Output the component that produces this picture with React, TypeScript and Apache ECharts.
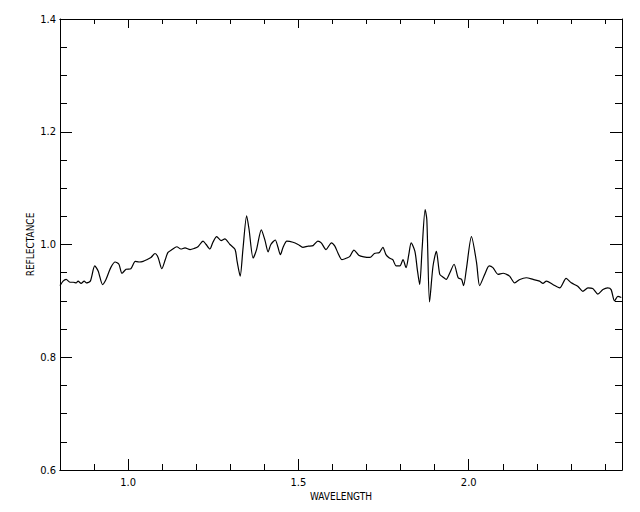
import React, { useEffect, useRef } from "react";
import * as echarts from "echarts";

const wavelength = [
  0.8, 0.809, 0.818, 0.83, 0.839, 0.848, 0.853, 0.862, 0.871, 0.877, 0.889, 0.902, 0.912, 0.925, 0.935, 0.949,
  0.962, 0.973, 0.982, 0.994, 1.008, 1.021, 1.032, 1.044, 1.055, 1.067, 1.079, 1.088, 1.099, 1.109, 1.117, 1.129,
  1.143, 1.155, 1.167, 1.182, 1.194, 1.205, 1.22, 1.229, 1.24, 1.249, 1.26, 1.273, 1.284, 1.299, 1.314, 1.32,
  1.329, 1.337, 1.348, 1.355, 1.367, 1.377, 1.391, 1.402, 1.411, 1.419, 1.432, 1.44, 1.447, 1.455, 1.466, 1.484,
  1.499, 1.513, 1.528, 1.543, 1.557, 1.567, 1.581, 1.597, 1.607, 1.616, 1.628, 1.642, 1.651, 1.663, 1.677, 1.692,
  1.71, 1.723, 1.738, 1.748, 1.757, 1.767, 1.777, 1.787, 1.798, 1.807, 1.816, 1.824, 1.831, 1.842, 1.849, 1.856,
  1.863, 1.872, 1.877, 1.885, 1.895, 1.905, 1.915, 1.925, 1.934, 1.944, 1.957, 1.969, 1.979, 1.985, 1.993, 2.008,
  2.023, 2.032, 2.047, 2.06, 2.071, 2.086, 2.101, 2.111, 2.12, 2.135, 2.15, 2.169, 2.189, 2.208, 2.218, 2.228,
  2.247, 2.267, 2.286, 2.301, 2.32, 2.335, 2.35, 2.364, 2.379, 2.394, 2.408, 2.418, 2.428, 2.438, 2.448,
];
const reflectance = [
  0.927, 0.935, 0.938, 0.933, 0.933, 0.932, 0.935, 0.931, 0.935, 0.932, 0.935, 0.962, 0.953, 0.929, 0.938, 0.959,
  0.969, 0.965, 0.949, 0.956, 0.957, 0.97, 0.969, 0.97, 0.973, 0.977, 0.984, 0.977, 0.957, 0.973, 0.986, 0.991,
  0.996, 0.992, 0.994, 0.991, 0.993, 0.996, 1.006, 1.0, 0.992, 1.004, 1.014, 1.007, 1.01, 1.0, 0.991, 0.97,
  0.944, 0.991, 1.051, 1.027, 0.976, 0.991, 1.026, 1.007, 0.987, 1.0, 1.008, 0.995, 0.982, 0.995, 1.006, 1.004,
  1.0, 0.995, 0.997, 0.998, 1.006, 1.003, 0.991, 1.003, 0.997, 0.985, 0.973, 0.976, 0.979, 0.99, 0.981, 0.978,
  0.977, 0.984, 0.986, 0.995, 0.982, 0.976, 0.973, 0.962, 0.962, 0.973, 0.959, 0.982, 1.003, 0.988, 0.956, 0.929,
  0.991, 1.062, 1.044, 0.898, 0.961, 0.988, 0.947, 0.942, 0.938, 0.949, 0.965, 0.941, 0.938, 0.927, 0.956, 1.014,
  0.968, 0.927, 0.947, 0.962, 0.959, 0.947, 0.949, 0.947, 0.944, 0.932, 0.938, 0.941, 0.938, 0.935, 0.931, 0.935,
  0.929, 0.923, 0.94, 0.932, 0.926, 0.917, 0.923, 0.922, 0.912, 0.92, 0.923, 0.92, 0.9, 0.908, 0.906,
];

const xMin = 0.8;
const xMax = 2.45;
const xMajorTicks = [1.0, 1.5, 2.0];
const xMinorTicks = [0.9, 1.1, 1.2, 1.3, 1.4, 1.6, 1.7, 1.8, 1.9, 2.1, 2.2, 2.3, 2.4];
const yMin = 0.6;
const yMax = 1.4;
const yStep = 0.2;
const xTitle = "WAVELENGTH";
const yTitle = "REFLECTANCE";

const FONT = "'Liberation Sans Narrow', 'DejaVu Sans Condensed', 'Liberation Sans', sans-serif";
const BLACK = "#000";

export default function App() {
  const ref = useRef<HTMLDivElement>(null);
  useEffect(() => {
    if (!ref.current) return;
    const chart = echarts.init(ref.current, undefined, { renderer: "svg" });
    const ls = () => ({ color: BLACK, width: 1, opacity: 1 });
    const xBase = (position: string) => ({
      type: "value",
      min: xMin,
      max: xMax,
      position,
      splitLine: { show: false },
      axisLine: { show: true, onZero: false, lineStyle: ls() },
    });
    const yBase = (position: string) => ({
      type: "value",
      min: yMin,
      max: yMax,
      interval: yStep,
      position,
      splitLine: { show: false },
      minorSplitLine: { show: false },
      axisLine: { show: true, onZero: false, lineStyle: ls() },
      axisTick: { show: true, inside: true, length: 12, lineStyle: ls() },
      minorTick: { show: true, splitNumber: 4, length: 7, lineStyle: ls() },
    });
    chart.setOption({
      animation: false,
      backgroundColor: "#fff",
      grid: { left: 60, right: 18, top: 19, bottom: 42, containLabel: false },
      xAxis: [
        {
          ...xBase("bottom"),
          name: xTitle,
          nameLocation: "middle",
          nameGap: 21,
          nameMoveOverlap: false,
          nameTextStyle: { color: BLACK, fontFamily: FONT, fontSize: 10 },
          axisTick: { show: true, inside: true, length: 11, customValues: xMajorTicks, lineStyle: ls() },
          axisLabel: {
            show: true,
            customValues: xMajorTicks,
            formatter: (v: number) => v.toFixed(1),
            color: BLACK,
            fontFamily: FONT,
            fontSize: 11,
            margin: 7,
          },
        },
        {
          ...xBase("bottom"),
          axisTick: { show: true, inside: true, length: 6, customValues: xMinorTicks, lineStyle: ls() },
          axisLabel: { show: false },
        },
        {
          ...xBase("top"),
          axisTick: { show: true, inside: true, length: 9, customValues: xMajorTicks, lineStyle: ls() },
          axisLabel: { show: false },
        },
        {
          ...xBase("top"),
          axisTick: { show: true, inside: true, length: 5, customValues: xMinorTicks, lineStyle: ls() },
          axisLabel: { show: false },
        },
      ],
      yAxis: [
        {
          ...yBase("left"),
          name: yTitle,
          nameLocation: "middle",
          nameGap: 25,
          nameMoveOverlap: false,
          nameTextStyle: { color: BLACK, fontFamily: FONT, fontSize: 10 },
          axisLabel: {
            show: true,
            formatter: (v: number) => v.toFixed(1),
            color: BLACK,
            fontFamily: FONT,
            fontSize: 11,
            margin: 4,
          },
        },
        {
          ...yBase("right"),
          axisLabel: { show: false },
        },
      ],
      series: [
        {
          type: "line",
          xAxisIndex: 0,
          yAxisIndex: 0,
          data: wavelength.map((w, i) => [w, reflectance[i]]),
          showSymbol: false,
          smooth: 0.25,
          lineStyle: { color: BLACK, width: 1.2 },
          itemStyle: { color: BLACK },
        },
      ],
    });
    return () => chart.dispose();
  }, []);
  return (
    <div
      ref={ref}
      style={{ position: "fixed", left: 0, top: 0, width: 640, height: 512, background: "#fff" }}
    />
  );
}
